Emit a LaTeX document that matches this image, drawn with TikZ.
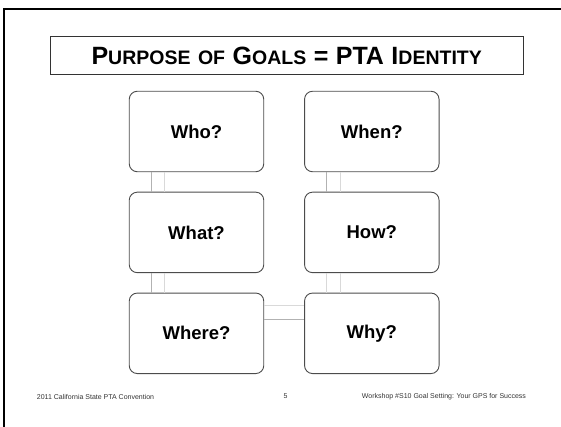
\documentclass[tikz,border=0pt]{standalone}
\usepackage{fontspec}
\setmainfont{Liberation Sans}
\usetikzlibrary{positioning}
\newcommand{\capsc}[2]{{\fontsize{25}{25}\selectfont #1}{\fontsize{19.5}{19.5}\selectfont #2}}
\newcommand{\tgap}{\hspace{7.5pt}}
\begin{document}
\begin{tikzpicture}[x=1pt,y=-1pt,
  block/.style={draw=black!70, line width=0.9pt, fill=white, rounded corners=8pt,
    minimum width=134.5pt, minimum height=80.5pt, font=\fontsize{18.5}{18.5}\selectfont\bfseries},
  link/.style={draw=black!30, line width=0.5pt},
  faint/.style={draw=black!15, line width=0.5pt},
  foot/.style={font=\fontsize{7}{7}\selectfont, text=black!80, inner sep=0pt}]
  \useasboundingbox (0,0) rectangle (561,426);
  % Slide frame
  \draw[line width=2pt] (3.5,430) -- (3.5,9.2) -- (565,9.2);

  % Title
  \node[draw=black!80, line width=0.8pt, minimum width=473.5pt, minimum height=37.6pt,
    inner sep=0pt] (title) at (286.7,55.5)
    {\bfseries\capsc{P}{URPOSE}\tgap\capsc{}{OF}\tgap\capsc{G}{OALS}\tgap\capsc{=}{}\tgap\capsc{PTA}{}\tgap\capsc{I}{DENTITY}};

  % Left column
  \node[block] (who) at (196.5,131.5) {Who?};
  \node[block, below=19.5pt of who] (what) {What?};
  \node[block, below=19.5pt of what] (where) {Where?};

  % Right column
  \node[block] (when) at (371.8,131.5) {When?};
  \node[block, below=19.5pt of when] (how) {How?};
  \node[block, below=19.5pt of how] (why) {Why?};

  % Connectors
  \draw[link] ([xshift=22.4pt]who.south west) -- ([xshift=22.4pt]what.north west);
  \draw[faint] ([xshift=35pt]who.south west) -- ([xshift=35pt]what.north west);
  \draw[link] ([xshift=22.4pt]what.south west) -- ([xshift=22.4pt]where.north west);
  \draw[faint] ([xshift=35pt]what.south west) -- ([xshift=35pt]where.north west);
  \draw[link] ([xshift=22.4pt]when.south west) -- ([xshift=22.4pt]how.north west);
  \draw[faint] ([xshift=36.4pt]when.south west) -- ([xshift=36.4pt]how.north west);
  \draw[faint] ([xshift=22.4pt]how.south west) -- ([xshift=22.4pt]why.north west);
  \draw[faint] ([xshift=36.4pt]how.south west) -- ([xshift=36.4pt]why.north west);
  \draw[faint] ([yshift=-12.6pt]where.north east) -- ([yshift=-12.6pt]why.north west);
  \draw[link] ([yshift=-27pt]where.north east) -- ([yshift=-27pt]why.north west);

  % Footer
  \node[foot, anchor=west] (conv) at (36.7,397) {2011 California State PTA Convention};
  \node[foot] (page) at (285.5,396.5) {5};
  \node[foot, anchor=west] (shop) at (361.7,396.5) {Workshop \#S10 Goal Setting: Your GPS for Success};
\end{tikzpicture}
\end{document}
